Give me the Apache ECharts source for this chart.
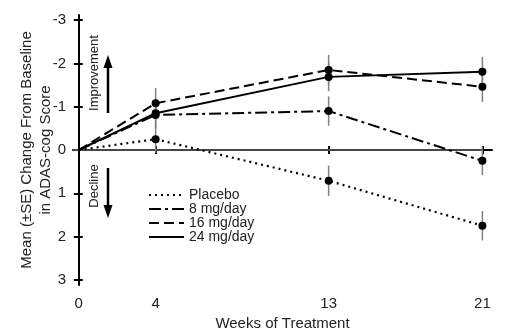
<!DOCTYPE html>
<html><head><meta charset="utf-8">
<script src="https://cdn.jsdelivr.net/npm/echarts@6/dist/echarts.min.js"></script>
<style>html,body{margin:0;padding:0;background:#fff}#c{width:507px;height:335px}</style>
</head><body><div id="c"></div>
<script>
const weeks = [0, 4, 13, 21];
const weekTicks = [0, 4, 13, 21];
const yTicks = [-3, -2, -1, 0, 1, 2, 3];
const names = ['Placebo', '8 mg/day', '16 mg/day', '24 mg/day'];
const placebo = [0, -0.25, 0.71, 1.75];
const mg8 = [0, -0.81, -0.90, 0.25];
const mg16 = [0, -1.08, -1.85, -1.46];
const mg24 = [0, -0.85, -1.69, -1.81];
const placeboSE = [0, 0.32, 0.35, 0.34];
const mg8SE = [0, 0.30, 0.34, 0.33];
const mg16SE = [0, 0.35, 0.35, 0.35];
const mg24SE = [0, 0.32, 0.33, 0.34];

const values = [placebo, mg8, mg16, mg24];
const ses = [placeboSE, mg8SE, mg16SE, mg24SE];
const dashTypes = [[2, 4], [12, 4, 3, 4], [10, 5], 'solid'];
const FONT = 'Liberation Sans, Arial, sans-serif';

const chart = echarts.init(document.getElementById('c'));
const series = [];
series.push({
  type: 'line', name: 'zero', data: [[-0.3, 0], [21, 0]], symbol: 'none', silent: true,
  lineStyle: { color: '#8c8c8c', width: 1 }, z: 1
});
values.forEach((v, i) => {
  series.push({
    type: 'custom', name: 'err' + i, z: 2, silent: true,
    data: weeks.map((w, j) => [w, v[j] - ses[i][j], v[j] + ses[i][j]]).filter((d, j) => j > 0),
    renderItem: function (params, api) {
      const p1 = api.coord([api.value(0), api.value(1)]);
      const p2 = api.coord([api.value(0), api.value(2)]);
      return { type: 'line', shape: { x1: p1[0], y1: p1[1], x2: p2[0], y2: p2[1] },
        style: { stroke: '#808080', lineWidth: 1.5 } };
    }
  });
});
values.forEach((v, i) => {
  series.push({
    type: 'line', name: names[i], data: weeks.map((w, j) => [w, v[j]]),
    symbol: 'none', z: 3,
    lineStyle: { color: '#000', width: i === 0 ? 2.2 : 2, type: dashTypes[i] },
    itemStyle: { color: '#000' }
  });
  series.push({
    type: 'scatter', name: 'pts' + i, z: 4, silent: true,
    data: weeks.map((w, j) => [w, v[j]]).filter((d, j) => j > 0),
    symbolSize: 8, itemStyle: { color: '#000', opacity: 1 }
  });
});

const axisFont = { fontFamily: FONT, fontSize: 15, color: '#222' };
chart.setOption({
  animation: false,
  grid: { left: 73, right: 15, top: 15, bottom: 50, outerBoundsMode: 'none', containLabel: false },
  legend: {
    data: names, orient: 'vertical', left: 143, top: 183,
    itemWidth: 35, itemHeight: 12, itemGap: 0,
    itemStyle: { opacity: 0 },
    textStyle: { fontFamily: FONT, fontSize: 14, color: '#222', lineHeight: 12 },
    selectedMode: false
  },
  xAxis: [{
    type: 'value', min: -0.3, max: 21.5,
    axisLine: { lineStyle: { color: '#000', width: 2 } },
    axisTick: { show: true, customValues: weekTicks, length: 4, lineStyle: { color: '#000', width: 2 } },
    axisLabel: { customValues: weekTicks, ...axisFont, margin: 11 },
    splitLine: { show: false },
    name: 'Weeks of Treatment', nameLocation: 'middle', nameGap: 31, nameMoveOverlap: false,
    nameTextStyle: { fontFamily: FONT, fontSize: 15, color: '#222' }
  }, {
    type: 'value', min: -0.3, max: 21.5, position: 'bottom',
    axisLine: { show: false },
    axisTick: { show: true, inside: true, customValues: weekTicks, length: 4, lineStyle: { color: '#000', width: 2 } },
    axisLabel: { show: false }, splitLine: { show: false }
  }],
  yAxis: [{
    type: 'value', min: -3.12, max: 3.12, inverse: true,
    axisLine: { show: true, lineStyle: { color: '#000', width: 2 } },
    axisTick: { show: true, customValues: yTicks, length: 5, lineStyle: { color: '#000', width: 2 } },
    axisLabel: { customValues: yTicks, ...axisFont, margin: 7 },
    splitLine: { show: false },
    name: 'Mean (±SE) Change From Baseline\nin ADAS-cog Score', nameLocation: 'middle', nameGap: 18, nameMoveOverlap: false,
    nameTextStyle: { fontFamily: FONT, fontSize: 15, color: '#222', lineHeight: 19 }
  }, {
    type: 'value', min: -3.12, max: 3.12, inverse: true, position: 'left',
    axisLine: { show: false },
    axisTick: { show: true, inside: true, customValues: yTicks, length: 4, lineStyle: { color: '#000', width: 2 } },
    axisLabel: { show: false }, splitLine: { show: false }
  }],
  graphic: [
    { type: 'text', x: 94, y: 73, rotation: Math.PI / 2, style: { text: 'Improvement', font: '13px ' + FONT, fill: '#222', align: 'center', verticalAlign: 'middle' } },
    { type: 'text', x: 94, y: 186, rotation: Math.PI / 2, style: { text: 'Decline', font: '13px ' + FONT, fill: '#222', align: 'center', verticalAlign: 'middle' } },
    { type: 'line', shape: { x1: 108, y1: 113, x2: 108, y2: 66 }, style: { stroke: '#000', lineWidth: 2.5 } },
    { type: 'polygon', shape: { points: [[108, 55], [103.5, 68], [112.5, 68]] }, style: { fill: '#000' } },
    { type: 'line', shape: { x1: 108, y1: 168, x2: 108, y2: 206 }, style: { stroke: '#000', lineWidth: 2.5 } },
    { type: 'polygon', shape: { points: [[108, 218], [103.5, 205], [112.5, 205]] }, style: { fill: '#000' } }
  ],
  series: series
});
</script></body></html>
